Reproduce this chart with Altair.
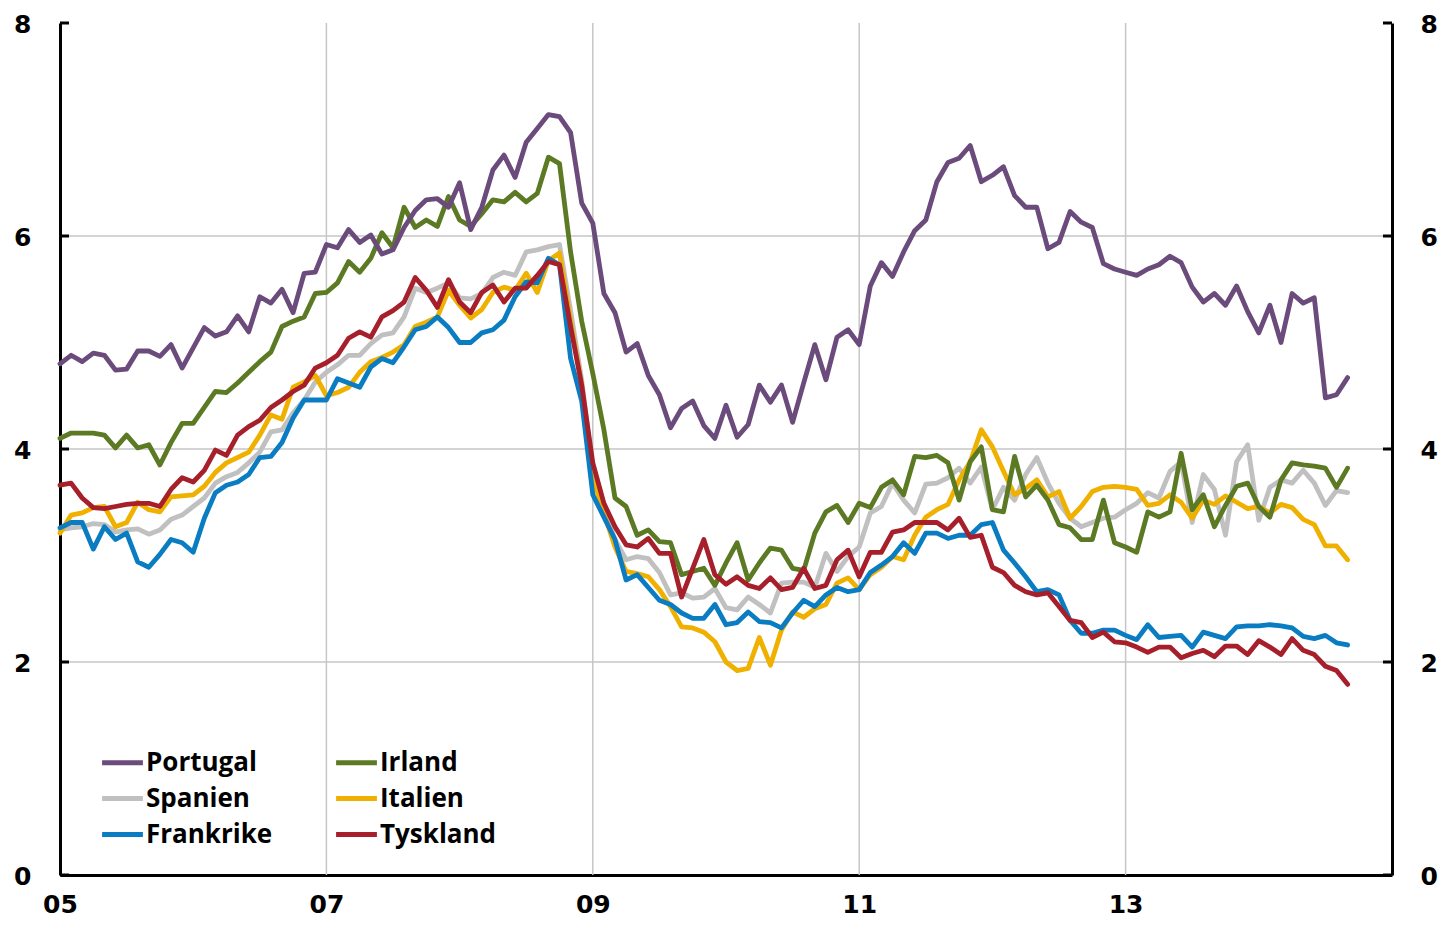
import altair as alt
import pandas as pd

# Monthly observations, Jan 2005 .. Sep 2014 (117 months)
months = list(range(117))

portugal = [
    4.80, 4.88, 4.82, 4.90, 4.88, 4.74, 4.75, 4.92, 4.92, 4.87, 4.98, 4.76,
    4.95, 5.14, 5.06, 5.10, 5.25, 5.10, 5.43, 5.37, 5.50, 5.28, 5.65, 5.66,
    5.92, 5.89, 6.06, 5.94, 6.01, 5.83, 5.87, 6.08, 6.24, 6.34, 6.35, 6.27,
    6.50, 6.06, 6.27, 6.62, 6.76, 6.55, 6.88, 7.01, 7.14, 7.12, 6.97, 6.31,
    6.12, 5.46, 5.28, 4.91, 4.99, 4.69, 4.51, 4.20, 4.38, 4.45, 4.22, 4.10,
    4.41, 4.11, 4.23, 4.60, 4.44, 4.60, 4.25, 4.62, 4.98, 4.65, 5.05, 5.12,
    4.98, 5.53, 5.75, 5.62, 5.85, 6.05, 6.15, 6.51, 6.69, 6.73, 6.85, 6.51,
    6.57, 6.65, 6.38, 6.27, 6.27, 5.88, 5.94, 6.23, 6.13, 6.08, 5.74, 5.69,
    5.66, 5.63, 5.69, 5.73, 5.81, 5.75, 5.52, 5.38, 5.46, 5.35, 5.53, 5.29,
    5.09, 5.35, 5.00, 5.46, 5.37, 5.42, 4.48, 4.51, 4.67,
]

irland = [
    4.10, 4.15, 4.15, 4.15, 4.13, 4.01, 4.13, 4.01, 4.04, 3.85, 4.06, 4.24,
    4.24, 4.39, 4.54, 4.53, 4.62, 4.72, 4.82, 4.91, 5.15, 5.20, 5.24, 5.46,
    5.47, 5.56, 5.76, 5.66, 5.79, 6.03, 5.89, 6.27, 6.08, 6.15, 6.09, 6.37,
    6.15, 6.09, 6.21, 6.34, 6.32, 6.41, 6.32, 6.40, 6.74, 6.68, 5.85, 5.20,
    4.71, 4.18, 3.54, 3.46, 3.19, 3.24, 3.13, 3.12, 2.82, 2.85, 2.88, 2.72,
    2.93, 3.12, 2.77, 2.93, 3.07, 3.05, 2.88, 2.86, 3.21, 3.41, 3.47, 3.31,
    3.49, 3.45, 3.64, 3.71, 3.57, 3.93, 3.92, 3.94, 3.87, 3.52, 3.88, 4.02,
    3.43, 3.41, 3.93, 3.55, 3.66, 3.52, 3.29, 3.26, 3.15, 3.15, 3.52, 3.12,
    3.08, 3.03, 3.41, 3.36, 3.41, 3.96, 3.43, 3.57, 3.27, 3.47, 3.65, 3.68,
    3.46, 3.36, 3.71, 3.87, 3.85, 3.84, 3.82, 3.64, 3.82,
]

spanien = [
    3.24, 3.26, 3.27, 3.30, 3.29, 3.22, 3.24, 3.25, 3.20, 3.24, 3.34, 3.38,
    3.46, 3.54, 3.68, 3.74, 3.78, 3.87, 3.97, 4.16, 4.18, 4.34, 4.46, 4.63,
    4.72, 4.79, 4.88, 4.88, 4.99, 5.07, 5.09, 5.24, 5.51, 5.47, 5.51, 5.56,
    5.42, 5.41, 5.46, 5.61, 5.66, 5.63, 5.85, 5.87, 5.90, 5.92, 5.30, 4.65,
    3.80, 3.45, 3.15, 2.96, 2.99, 2.97, 2.84, 2.63, 2.65, 2.60, 2.61, 2.69,
    2.51, 2.49, 2.61, 2.54, 2.46, 2.74, 2.75, 2.75, 2.70, 3.02, 2.85, 2.99,
    3.08, 3.40, 3.46, 3.68, 3.52, 3.40, 3.67, 3.68, 3.73, 3.82, 3.68, 3.83,
    3.43, 3.64, 3.52, 3.76, 3.92, 3.68, 3.49, 3.35, 3.27, 3.31, 3.35, 3.36,
    3.43, 3.49, 3.59, 3.54, 3.79, 3.88, 3.31, 3.76, 3.62, 3.19, 3.88, 4.04,
    3.33, 3.64, 3.71, 3.68, 3.80, 3.68, 3.47, 3.61, 3.59,
]

italien = [
    3.21, 3.38, 3.40, 3.45, 3.46, 3.27, 3.31, 3.50, 3.43, 3.41, 3.55, 3.56,
    3.57, 3.65, 3.78, 3.87, 3.92, 3.97, 4.13, 4.32, 4.28, 4.58, 4.63, 4.69,
    4.50, 4.53, 4.58, 4.72, 4.82, 4.86, 4.91, 4.98, 5.15, 5.19, 5.24, 5.49,
    5.35, 5.23, 5.31, 5.47, 5.52, 5.49, 5.65, 5.47, 5.77, 5.84, 5.20, 4.60,
    3.72, 3.40, 3.08, 2.85, 2.83, 2.80, 2.68, 2.52, 2.33, 2.32, 2.28, 2.19,
    2.00, 1.92, 1.94, 2.23, 1.97, 2.30, 2.47, 2.42, 2.50, 2.54, 2.74, 2.79,
    2.68, 2.82, 2.89, 2.99, 2.96, 3.19, 3.36, 3.43, 3.48, 3.71, 3.88, 4.18,
    4.02, 3.79, 3.57, 3.63, 3.71, 3.55, 3.60, 3.35, 3.46, 3.60, 3.64, 3.65,
    3.64, 3.62, 3.47, 3.49, 3.57, 3.50, 3.35, 3.52, 3.48, 3.56, 3.50, 3.44,
    3.46, 3.40, 3.48, 3.45, 3.34, 3.29, 3.09, 3.09, 2.96,
]

frankrike = [
    3.26, 3.31, 3.31, 3.06, 3.27, 3.15, 3.21, 2.94, 2.89, 3.01, 3.15, 3.12,
    3.03, 3.35, 3.59, 3.66, 3.69, 3.76, 3.92, 3.93, 4.06, 4.29, 4.46, 4.46,
    4.46, 4.66, 4.62, 4.58, 4.77, 4.85, 4.81, 4.96, 5.12, 5.15, 5.24, 5.14,
    5.00, 5.00, 5.09, 5.12, 5.21, 5.43, 5.57, 5.56, 5.79, 5.73, 4.85, 4.45,
    3.57, 3.36, 3.15, 2.77, 2.82, 2.70, 2.58, 2.54, 2.46, 2.41, 2.41, 2.54,
    2.35, 2.37, 2.47, 2.38, 2.37, 2.32, 2.46, 2.58, 2.52, 2.63, 2.70, 2.66,
    2.68, 2.84, 2.91, 2.99, 3.12, 3.02, 3.21, 3.21, 3.16, 3.19, 3.19, 3.29,
    3.31, 3.05, 2.93, 2.80, 2.66, 2.68, 2.63, 2.39, 2.27, 2.27, 2.30, 2.30,
    2.25, 2.21, 2.35, 2.23, 2.24, 2.25, 2.14, 2.28, 2.25, 2.22, 2.33, 2.34,
    2.34, 2.35, 2.34, 2.32, 2.24, 2.22, 2.25, 2.18, 2.16,
]

tyskland = [
    3.66, 3.68, 3.54, 3.45, 3.44, 3.46, 3.48, 3.49, 3.49, 3.46, 3.62, 3.73,
    3.69, 3.80, 3.99, 3.94, 4.13, 4.21, 4.27, 4.39, 4.46, 4.54, 4.60, 4.76,
    4.81, 4.88, 5.04, 5.10, 5.05, 5.24, 5.30, 5.38, 5.61, 5.49, 5.33, 5.59,
    5.38, 5.28, 5.47, 5.54, 5.38, 5.51, 5.51, 5.63, 5.76, 5.73, 5.15, 4.60,
    3.87, 3.49, 3.27, 3.10, 3.08, 3.16, 3.02, 3.02, 2.61, 2.88, 3.15, 2.82,
    2.73, 2.80, 2.72, 2.69, 2.79, 2.68, 2.70, 2.88, 2.69, 2.72, 2.96, 3.05,
    2.80, 3.03, 3.03, 3.22, 3.24, 3.31, 3.31, 3.31, 3.24, 3.35, 3.17, 3.19,
    2.89, 2.84, 2.72, 2.66, 2.63, 2.65, 2.52, 2.39, 2.37, 2.23, 2.28, 2.19,
    2.18, 2.14, 2.09, 2.14, 2.14, 2.04, 2.08, 2.11, 2.05, 2.15, 2.15, 2.07,
    2.20, 2.14, 2.07, 2.22, 2.11, 2.07, 1.96, 1.92, 1.79,
]

series = {
    "Portugal": portugal,
    "Irland": irland,
    "Spanien": spanien,
    "Italien": italien,
    "Frankrike": frankrike,
    "Tyskland": tyskland,
}
# legend fills column by column: Portugal/Spanien/Frankrike, then Irland/Italien/Tyskland
legend_order = ["Portugal", "Spanien", "Frankrike", "Irland", "Italien", "Tyskland"]
colors = ["#6b4a7c", "#c0c0c0", "#0a7cc2", "#5b7a23", "#f0b000", "#a61f2a"]
draw_order = ["Spanien", "Italien", "Frankrike", "Irland", "Portugal", "Tyskland"]

x_label_values = [2005, 2007, 2009, 2011, 2013]
y_label_values = [0, 2, 4, 6, 8]
grid_x = [2007, 2009, 2011, 2013]
grid_y = [2, 4, 6]

rows = []
for name in draw_order:
    for m, v in zip(months, series[name]):
        rows.append({"land": name, "t": 2005 + m / 12.0, "v": v})
df = pd.DataFrame(rows)

W, H = 1332, 852
AXFONT = "DejaVu Sans"
LGFONT = "Open Sans"
GRID = "#c6c6c6"

xscale = alt.Scale(domain=[2005, 2015], nice=False, zero=False)
yscale = alt.Scale(domain=[0, 8], nice=False)

x_axis = alt.Axis(
    values=x_label_values,
    labelExpr="substring(toString(datum.value), 2, 4)",
    title=None, grid=False, ticks=False,
    domainColor="black", domainWidth=3,
    labelFont=AXFONT, labelFontSize=25, labelFontWeight="bold", labelColor="black",
    labelPadding=17, labelFlush=False,
)

def y_axis(orient, pad):
    return alt.Axis(
        orient=orient, values=y_label_values, title=None, grid=False, ticks=False,
        domainColor="black", domainWidth=3,
        labelFont=AXFONT, labelFontSize=25, labelFontWeight="bold", labelColor="black",
        labelPadding=pad, labelOffset=1,
    )

vgrid = alt.Chart(pd.DataFrame({"t": grid_x})).mark_rule(
    color=GRID, strokeWidth=1.5
).encode(x=alt.X("t:Q", scale=xscale, axis=x_axis))

hgrid = alt.Chart(pd.DataFrame({"v": grid_y})).mark_rule(
    color=GRID, strokeWidth=1.5
).encode(y=alt.Y("v:Q", scale=yscale, axis=None))

lines = alt.Chart(df).mark_line(
    strokeWidth=4.8, strokeJoin="round", strokeCap="round"
).encode(
    x=alt.X("t:Q", scale=xscale, axis=x_axis),
    y=alt.Y("v:Q", scale=yscale, axis=y_axis("left", 29)),
    color=alt.Color(
        "land:N",
        scale=alt.Scale(domain=legend_order, range=colors),
        legend=alt.Legend(
            title=None, orient="none", legendX=43, legendY=720, columns=2,
            symbolType="M-1.2,0H1.2", symbolSize=1156, symbolStrokeWidth=4.8,
            labelOffset=4, labelFont=LGFONT, labelFontSize=26, labelFontWeight="bold",
            labelColor="black", columnPadding=53, rowPadding=3,
        ),
    ),
    detail="land:N",
)

tick_df = pd.DataFrame({"v": y_label_values})
ticks_left = alt.Chart(tick_df).mark_rule(color="black", strokeWidth=3).encode(
    y=alt.Y("v:Q", scale=yscale, axis=None),
    x=alt.value(0), x2=alt.value(9),
)
ticks_right = alt.Chart(tick_df).mark_rule(color="black", strokeWidth=3).encode(
    y=alt.Y("v:Q", scale=yscale, axis=y_axis("right", 28)),
    x=alt.value(W - 9), x2=alt.value(W),
)

chart = alt.layer(vgrid, hgrid, lines, ticks_left, ticks_right).resolve_axis(
    y="independent"
).properties(
    width=W, height=H,
    autosize=alt.AutoSizeParams(type="none"),
    padding={"left": 52, "top": 15, "right": 48, "bottom": 45},
    background="white",
).configure_view(stroke=None)

chart.save("out.html", embed_options={"renderer": "svg", "actions": False})
